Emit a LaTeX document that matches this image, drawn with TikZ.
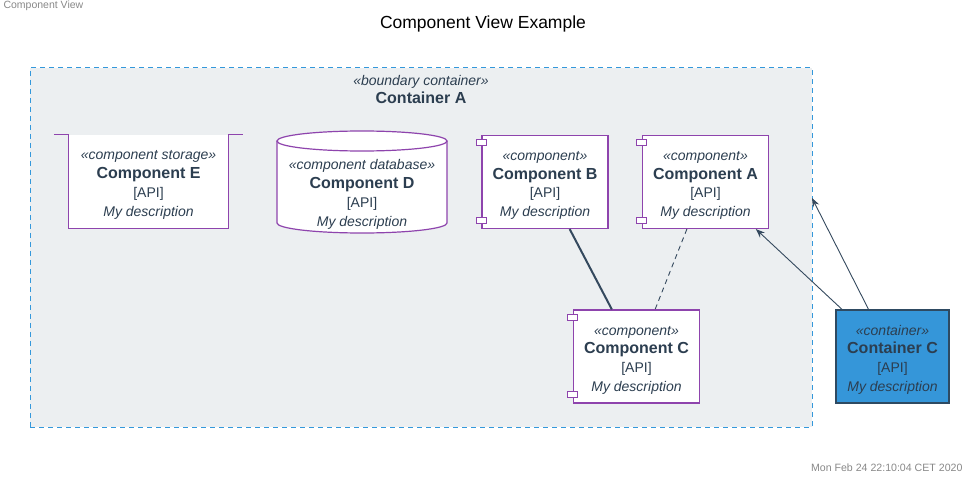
\documentclass[tikz,border=0pt]{standalone}
\usepackage{fontspec}
\setmainfont{Liberation Sans}
\usetikzlibrary{arrows.meta, positioning}

\definecolor{txt}{HTML}{2C3E50}
\definecolor{compline}{HTML}{8E44AD}
\definecolor{bndline}{HTML}{3498DB}
\definecolor{bndfill}{HTML}{ECEFF1}
\definecolor{contfill}{HTML}{3596D9}
\definecolor{contline}{HTML}{2E4A62}
\definecolor{relline}{HTML}{34495E}
\definecolor{meta}{HTML}{888888}

\newcommand{\elemtext}[2]{\rule{0pt}{16pt}{\itshape «#1»}\\{\fontsize{16}{18.7}\selectfont\bfseries #2}\\{}[API]\\{\itshape My description}}

\begin{document}
\begin{tikzpicture}[x=1pt, y=-1pt,
    elem/.style={inner sep=0pt, align=center, text=txt, font=\fontsize{14}{18.7}\selectfont},
    comp/.style={elem, draw=compline, line width=1.2pt, fill=white, minimum width=126pt, minimum height=93pt},
    tab/.style={draw=compline, line width=1pt, fill=white},
    cont/.style={elem, draw=contline, line width=1.4pt, fill=contfill, minimum width=113pt, minimum height=93pt},
    rel/.style={draw=relline, line width=0.9pt, -{Stealth[length=9pt, width=7pt, inset=3pt]}}]
    \useasboundingbox (0,0) rectangle (977,484);

    \node (hdr) [anchor=west, text=meta, font=\fontsize{10.5}{12}\selectfont] at (0,6) {Component View};
    \node (title) [font=\fontsize{17.5}{20}\selectfont] at (483,24) {Component View Example};
    \node (date) [anchor=east, text=meta, font=\fontsize{10.6}{12}\selectfont] at (966,468) {Mon Feb 24 22:10:04 CET 2020};

    % boundary
    \node (bnd) [draw=bndline, line width=1pt, dash pattern=on 5pt off 4pt, fill=bndfill,
      minimum width=782pt, minimum height=359pt] at (421,247.5) {};
    \node (bndlabel) [elem] at (421,89.5) {{\itshape «boundary container»}\\{\fontsize{16}{18.7}\selectfont\bfseries Container A}};
    \coordinate (bndpt) at (812,198);

    % storage
    \node (cE) [elem, fill=white, minimum width=159pt, minimum height=93pt] at (148.5,181.5) {\elemtext{component storage}{Component E}};
    \draw [compline, line width=1.2pt] ([xshift=-15pt]cE.north west) -- (cE.north west) -- (cE.south west)
      -- (cE.south east) -- (cE.north east) -- ([xshift=15pt]cE.north east);

    % database
    \fill [white] (277,141) rectangle (447,223) (362,223) ellipse [x radius=85pt, y radius=10pt];
    \draw [compline, line width=1.2pt, fill=white] (362,141) ellipse [x radius=85pt, y radius=10pt];
    \draw [compline, line width=1.2pt] (277,141) -- (277,223) arc [start angle=180, end angle=360, x radius=85pt, y radius=10pt] -- (447,141);
    \node (cD) [elem] at (362,191.5) {\elemtext{component database}{Component D}};

    % components
    \node (cB) [comp] at (545,182) {\elemtext{component}{Component B}};
    \node (cA) [comp] at (705.5,182) {\elemtext{component}{Component A}};
    \node (cC) [comp] at (636.5,356.5) {\elemtext{component}{Component C}};
    \foreach \n in {cB, cA, cC} {
      \draw [tab] ([xshift=-5pt, yshift=-5pt]\n.north west) rectangle ++(10pt,-6pt);
      \draw [tab] ([xshift=-5pt, yshift=6pt]\n.south west) rectangle ++(10pt,6pt);
    }

    \node (contC) [cont] at (892.5,356.5) {\elemtext{container}{Container C}};

    \draw [relline, line width=2pt] (cB) -- (cC);
    \draw [relline, line width=0.9pt, dash pattern=on 5pt off 4pt] (cA) -- (cC);
    \draw [rel] (contC) -- (cA);
    \draw [rel] ([xshift=-24pt]contC.north) -- (bndpt);
\end{tikzpicture}
\end{document}
